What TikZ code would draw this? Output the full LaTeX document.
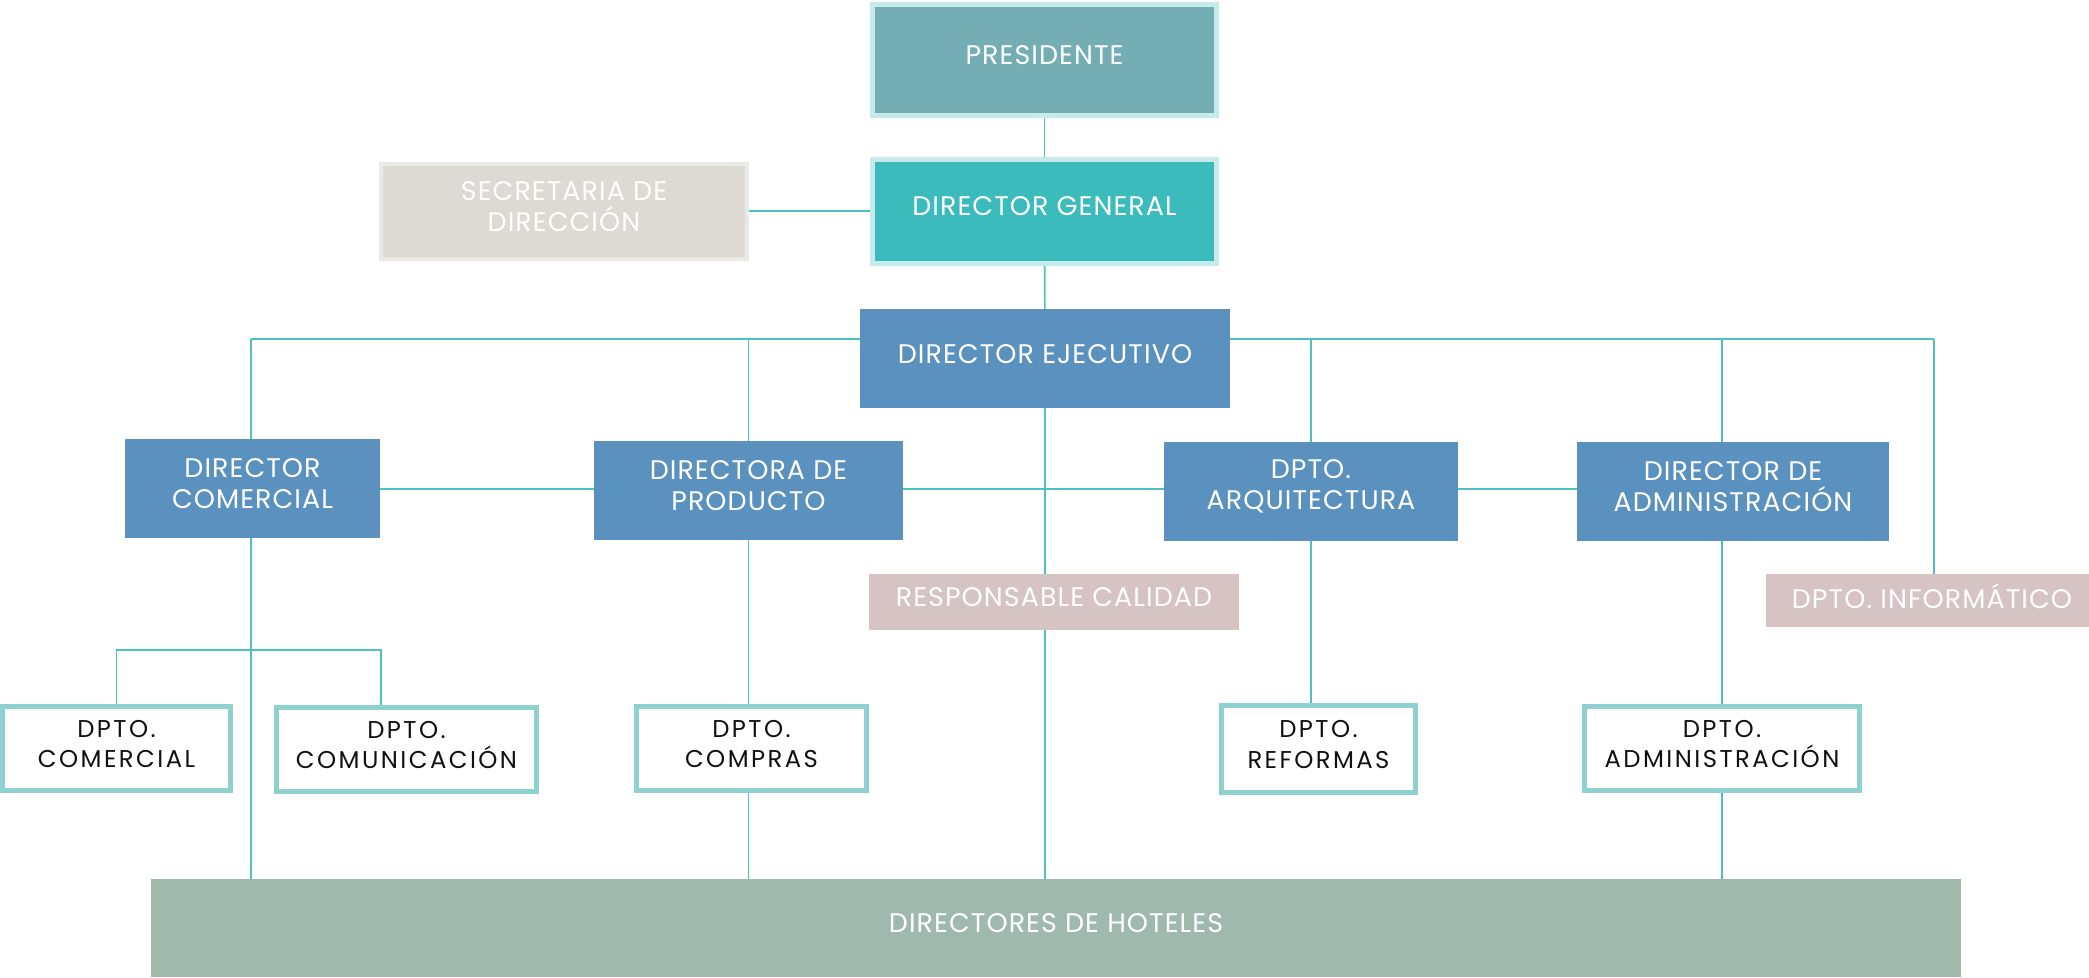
\documentclass[tikz,border=0pt]{standalone}
\usepackage{fontspec}
\setmainfont{Poppins}
\newfontfamily\wfont{Poppins}[LetterSpace=4]
\newfontfamily\bfontx{Poppins}[LetterSpace=10]
\pgfdeclarelayer{bg}
\pgfsetlayers{bg,main}
\definecolor{presfill}{HTML}{74ADB3}
\definecolor{lightrim}{HTML}{C6EBEB}
\definecolor{dgfill}{HTML}{3BBBBC}
\definecolor{secfill}{HTML}{DCDAD3}
\definecolor{secrim}{HTML}{EBEAE6}
\definecolor{bluefill}{HTML}{5A91BF}
\definecolor{pinkfill}{HTML}{D6C3C3}
\definecolor{dptorim}{HTML}{8FD1D1}
\definecolor{hotfill}{HTML}{9FBAAD}
\definecolor{linec}{HTML}{4EC0C0}
\definecolor{darktext}{HTML}{111111}
\begin{document}
\begin{tikzpicture}[x=0.5bp,y=-0.5bp,
  box/.style={rectangle, inner sep=0pt, outer sep=0pt},
  sz/.style 2 args={minimum width=#1*0.5bp, minimum height=#2*0.5bp},
  wtxt/.style={text=white, font=\wfont\fontsize{13.5}{15.5}\selectfont, align=center, inner sep=0pt},
  btxt/.style={text=darktext, font=\bfontx\fontsize{12.2}{15.5}\selectfont, align=center, inner sep=0pt},
  lab/.style={label={[wtxt,yshift=2.25bp]center:#1}},
  blab/.style={label={[btxt,yshift=2.25bp]center:#1}},
  presbox/.style={box, fill=presfill, draw=lightrim, line width=2.5bp},
  dgbox/.style={box, fill=dgfill, draw=lightrim, line width=2.5bp},
  secbox/.style={box, fill=secfill, draw=secrim, line width=2bp},
  bluebox/.style={box, fill=bluefill},
  pinkbox/.style={box, fill=pinkfill},
  dptobox/.style={box, fill=white, draw=dptorim, line width=2.5bp},
  hotbox/.style={box, fill=hotfill},
  conn/.style={draw=linec, line width=0.8bp}
]
\useasboundingbox (0,0) rectangle (2089,977);

% top levels
\node[presbox, sz={344}{111}, lab=PRESIDENTE] (pres) at (1044.5,60) {};
\node[dgbox, sz={344}{104}, lab={DIRECTOR GENERAL}] (dg) at (1044.5,211) {};
\node[secbox, sz={366}{95}, lab={{SECRETARIA DE\\DIRECCIÓN}}] (sec) at (564,211) {};
\node[bluebox, sz={370}{99}, lab={DIRECTOR EJECUTIVO}] (de) at (1045,358.5) {};

% directors
\node[bluebox, sz={255}{99}, lab={{DIRECTOR\\COMERCIAL}}] (dc) at (252.5,488) {};
\node[bluebox, sz={309}{99}, lab={{DIRECTORA DE\\PRODUCTO}}] (dp) at (748.5,490) {};
\node[bluebox, sz={294}{99}, lab={{DPTO.\\ARQUITECTURA}}] (da) at (1311,491) {};
\node[bluebox, sz={312}{99}, lab={{DIRECTOR DE\\ADMINISTRACIÓN}}] (dadm) at (1733,491) {};

% pink boxes
\node[pinkbox, sz={370}{56}, lab={RESPONSABLE CALIDAD}] (rc) at (1054,602) {};
\node[pinkbox, sz={323}{53}, label={[wtxt,yshift=2.25bp,xshift=2.25bp]center:DPTO. INFORMÁTICO}] (di) at (1927.5,600.5) {};

% departments
\node[dptobox, sz={228}{84}, blab={{DPTO.\\COMERCIAL}}] (dcom) at (116.5,748.5) {};
\node[dptobox, sz={260}{84}, blab={{DPTO.\\COMUNICACIÓN}}] (dcomu) at (406.5,749.5) {};
\node[dptobox, sz={230}{84}, blab={{DPTO.\\COMPRAS}}] (dcompras) at (751.5,748.5) {};
\node[dptobox, sz={194}{87}, blab={{DPTO.\\REFORMAS}}] (dref) at (1318.5,749) {};
\node[dptobox, sz={275}{84}, blab={{DPTO.\\ADMINISTRACIÓN}}] (dadmin) at (1722,748.5) {};

% hotels
\node[hotbox, sz={1810}{98}, lab={DIRECTORES DE HOTELES}] (hot) at (1056,928) {};

% connectors
\coordinate (busL) at (251,339);
\coordinate (busR) at (1934,339);
\coordinate (hl) at (0,489);
\coordinate (brR) at (381,650);
\begin{pgfonlayer}{bg}
  \draw[conn] (pres) -- (dg);
  \draw[conn] (sec) -- (dg);
  \draw[conn] (dg) -- (de);
  \draw[conn] (busL) -- (busR);
  \draw[conn] (busL) -- (busL |- hot.north);
  \draw[conn] (dp |- busL) -- (dp |- hot.north);
  \draw[conn] (de) -- (de |- hot.north);
  \draw[conn] (da |- busL) -- (da |- dref);
  \draw[conn] (dadmin |- busL) -- (dadmin |- hot.north);
  \draw[conn] (busR) -- (busR |- di);
  \draw[conn] (dc |- hl) -- (dadm |- hl);
  \draw[conn] (dcom) |- (brR) -- (brR |- dcomu);
\end{pgfonlayer}
\end{tikzpicture}
\end{document}
